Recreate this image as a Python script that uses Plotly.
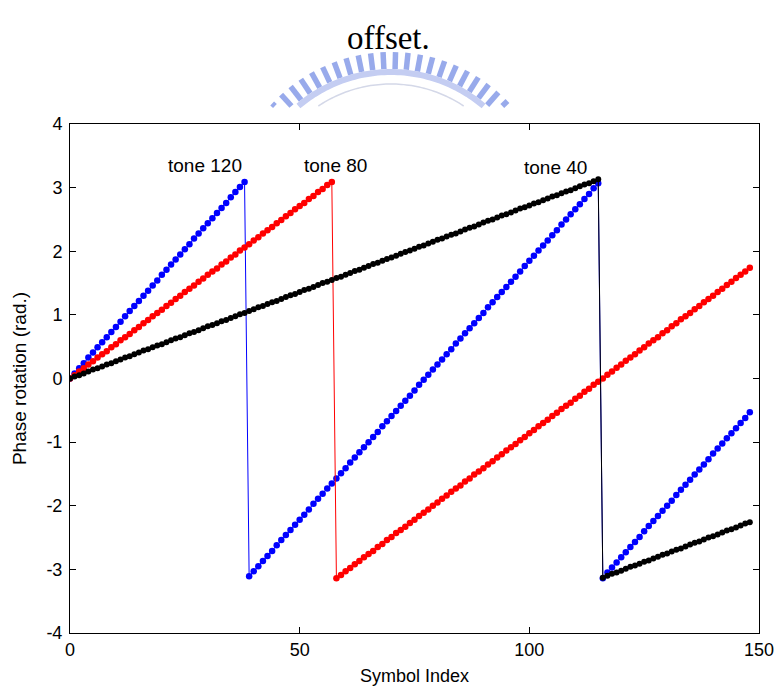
import math
import plotly.graph_objects as go

# ---------------- data ----------------
symbol_index = list(range(0, 149))

tone120 = [0.00, 0.08, 0.16, 0.24, 0.33, 0.41, 0.49, 0.57, 0.65, 0.73,
           0.81, 0.89, 0.98, 1.06, 1.14, 1.22, 1.30, 1.38, 1.46, 1.54,
           1.63, 1.71, 1.79, 1.87, 1.95, 2.03, 2.11, 2.20, 2.28, 2.36,
           2.44, 2.52, 2.60, 2.68, 2.76, 2.85, 2.93, 3.01, 3.09, -3.11,
           -3.03, -2.95, -2.87, -2.79, -2.71, -2.62, -2.54, -2.46, -2.38, -2.30,
           -2.22, -2.14, -2.06, -1.97, -1.89, -1.81, -1.73, -1.65, -1.57, -1.49,
           -1.41, -1.32, -1.24, -1.16, -1.08, -1.00, -0.92, -0.84, -0.75, -0.67,
           -0.59, -0.51, -0.43, -0.35, -0.27, -0.19, -0.10, -0.02, 0.06, 0.14,
           0.22, 0.30, 0.38, 0.46, 0.55, 0.63, 0.71, 0.79, 0.87, 0.95,
           1.03, 1.12, 1.20, 1.28, 1.36, 1.44, 1.52, 1.60, 1.68, 1.77,
           1.85, 1.93, 2.01, 2.09, 2.17, 2.25, 2.33, 2.42, 2.50, 2.58,
           2.66, 2.74, 2.82, 2.90, 2.99, 3.07, -3.14, -3.05, -2.97, -2.89,
           -2.81, -2.73, -2.65, -2.57, -2.49, -2.40, -2.32, -2.24, -2.16, -2.08,
           -2.00, -1.92, -1.83, -1.75, -1.67, -1.59, -1.51, -1.43, -1.35, -1.27,
           -1.18, -1.10, -1.02, -0.94, -0.86, -0.78, -0.70, -0.62, -0.53]

tone80 = [0.00, 0.05, 0.11, 0.16, 0.22, 0.27, 0.33, 0.38, 0.43, 0.49,
          0.54, 0.60, 0.65, 0.70, 0.76, 0.81, 0.87, 0.92, 0.98, 1.03,
          1.08, 1.14, 1.19, 1.25, 1.30, 1.36, 1.41, 1.46, 1.52, 1.57,
          1.63, 1.68, 1.73, 1.79, 1.84, 1.90, 1.95, 2.01, 2.06, 2.11,
          2.17, 2.22, 2.28, 2.33, 2.38, 2.44, 2.49, 2.55, 2.60, 2.66,
          2.71, 2.76, 2.82, 2.87, 2.93, 2.98, 3.04, 3.09, -3.14, -3.09,
          -3.03, -2.98, -2.92, -2.87, -2.81, -2.76, -2.71, -2.65, -2.60, -2.54,
          -2.49, -2.43, -2.38, -2.33, -2.27, -2.22, -2.16, -2.11, -2.06, -2.00,
          -1.95, -1.89, -1.84, -1.78, -1.73, -1.68, -1.62, -1.57, -1.51, -1.46,
          -1.41, -1.35, -1.30, -1.24, -1.19, -1.13, -1.08, -1.03, -0.97, -0.92,
          -0.86, -0.81, -0.75, -0.70, -0.65, -0.59, -0.54, -0.48, -0.43, -0.38,
          -0.32, -0.27, -0.21, -0.16, -0.10, -0.05, 0.00, 0.06, 0.11, 0.17,
          0.22, 0.28, 0.33, 0.38, 0.44, 0.49, 0.55, 0.60, 0.65, 0.71,
          0.76, 0.82, 0.87, 0.93, 0.98, 1.03, 1.09, 1.14, 1.20, 1.25,
          1.30, 1.36, 1.41, 1.47, 1.52, 1.58, 1.63, 1.68, 1.74]

tone40 = [0.00, 0.03, 0.05, 0.08, 0.11, 0.14, 0.16, 0.19, 0.22, 0.24,
          0.27, 0.30, 0.33, 0.35, 0.38, 0.41, 0.44, 0.46, 0.49, 0.52,
          0.54, 0.57, 0.60, 0.63, 0.65, 0.68, 0.71, 0.73, 0.76, 0.79,
          0.82, 0.84, 0.87, 0.90, 0.92, 0.95, 0.98, 1.01, 1.03, 1.06,
          1.09, 1.12, 1.14, 1.17, 1.20, 1.22, 1.25, 1.28, 1.31, 1.33,
          1.36, 1.39, 1.41, 1.44, 1.47, 1.50, 1.52, 1.55, 1.58, 1.60,
          1.63, 1.66, 1.69, 1.71, 1.74, 1.77, 1.80, 1.82, 1.85, 1.88,
          1.90, 1.93, 1.96, 1.99, 2.01, 2.04, 2.07, 2.09, 2.12, 2.15,
          2.18, 2.20, 2.23, 2.26, 2.28, 2.31, 2.34, 2.37, 2.39, 2.42,
          2.45, 2.48, 2.50, 2.53, 2.56, 2.58, 2.61, 2.64, 2.67, 2.69,
          2.72, 2.75, 2.77, 2.80, 2.83, 2.86, 2.88, 2.91, 2.94, 2.96,
          2.99, 3.02, 3.05, 3.07, 3.10, 3.13, -3.13, -3.10, -3.07, -3.05,
          -3.02, -2.99, -2.96, -2.94, -2.91, -2.88, -2.86, -2.83, -2.80, -2.77,
          -2.75, -2.72, -2.69, -2.67, -2.64, -2.61, -2.58, -2.56, -2.53, -2.50,
          -2.48, -2.45, -2.42, -2.39, -2.37, -2.34, -2.31, -2.28, -2.26]

tone_labels = ["tone 120", "tone 80", "tone 40"]
label_x = [29.4, 57.7, 105.8]
label_y = [3.34, 3.34, 3.31]

x_ticks = [0, 50, 100, 150]
y_ticks = [-4, -3, -2, -1, 0, 1, 2, 3, 4]
y_tick_text = ["-4", "-3", "-2", "-1", "0", "1", "2", "3", "4"]

# ---------------- layout geometry ----------------
W, H = 777, 692
ML, MR, MT, MB = 70, 18, 124, 59
PW, PH = W - ML - MR, H - MT - MB


def pxp(xp):
    return (xp - ML) / PW


def pyp(yp):
    return (H - MB - yp) / PH


FONT = "Liberation Sans, Arial, sans-serif"

fig = go.Figure()

series = [(tone120, "#0000ff", 6.5), (tone80, "#ff0000", 6.5), (tone40, "#000000", 6)]
for vals, col, ms in series:
    fig.add_trace(go.Scatter(
        x=symbol_index, y=vals, mode="lines+markers",
        line=dict(color=col, width=1),
        marker=dict(color=col, size=ms, line=dict(width=0)),
        showlegend=False, hoverinfo="x+y"))

for t, lx, ly in zip(tone_labels, label_x, label_y):
    fig.add_annotation(x=lx, y=ly, text=t, showarrow=False,
                       font=dict(family=FONT, size=19, color="black"),
                       xanchor="center", yanchor="middle")

# ---------------- decorative watermark (page scan) ----------------
shapes = []
cx, cy = 391.0, 215.0
cut_y = 106.0
wm_tick = "rgb(152,170,235)"
wm_band = "rgb(196,205,242)"
wm_thin = "rgb(212,216,232)"


def clip_seg(p1, p2):
    (x1, y1), (x2, y2) = p1, p2
    if y1 > cut_y and y2 > cut_y:
        return None
    if y1 > cut_y:
        t = (cut_y - y1) / (y2 - y1)
        x1, y1 = x1 + t * (x2 - x1), cut_y
    if y2 > cut_y:
        t = (cut_y - y2) / (y1 - y2)
        x2, y2 = x2 + t * (x1 - x2), cut_y
    return (x1, y1), (x2, y2)


ang = 40.0
while ang <= 140.5:
    a = math.radians(ang)
    p1 = (cx + 146 * math.cos(a), cy - 146 * math.sin(a))
    p2 = (cx + 163 * math.cos(a), cy - 163 * math.sin(a))
    seg = clip_seg(p1, p2)
    if seg:
        (a1, b1), (a2, b2) = seg
        shapes.append(dict(type="line", xref="paper", yref="paper",
                           x0=pxp(a1), y0=pyp(b1), x1=pxp(a2), y1=pyp(b2),
                           line=dict(color=wm_tick, width=5.5)))
    ang += 4.4


def arc_path(r):
    pts = []
    lim = math.degrees(math.asin((cy - cut_y) / r))
    n = 60
    for i in range(n + 1):
        d = lim + (180 - 2 * lim) * i / n
        a = math.radians(d)
        pts.append((pxp(cx + r * math.cos(a)), pyp(cy - r * math.sin(a))))
    return "M " + " L ".join(f"{p[0]:.5f},{p[1]:.5f}" for p in pts)


shapes.append(dict(type="path", xref="paper", yref="paper", path=arc_path(143),
                   line=dict(color=wm_band, width=6)))
shapes.append(dict(type="path", xref="paper", yref="paper", path=arc_path(131),
                   line=dict(color=wm_thin, width=1.5)))

fig.add_annotation(xref="paper", yref="paper", x=pxp(388), y=pyp(38),
                   text="offset.", showarrow=False,
                   font=dict(family="Liberation Serif, Times New Roman, serif",
                             size=33, color="black"),
                   xanchor="center", yanchor="middle")

axis_common = dict(showline=True, linecolor="black", linewidth=1, mirror="allticks",
                   ticks="inside", ticklen=6, tickcolor="black", tickwidth=1,
                   showgrid=False, zeroline=False, automargin=False,
                   tickfont=dict(family=FONT, size=18, color="black"))

fig.update_layout(
    width=W, height=H,
    margin=dict(l=ML, r=MR, t=MT, b=MB, autoexpand=False),
    paper_bgcolor="white", plot_bgcolor="white",
    shapes=shapes,
    xaxis=dict(range=[0, 150], tickvals=x_ticks,
               title=dict(text="Symbol Index", font=dict(family=FONT, size=18, color="black"),
                          standoff=10),
               **axis_common),
    yaxis=dict(range=[-4, 4], tickvals=y_ticks, ticktext=y_tick_text,
               ticklabelstandoff=3,
               title=dict(text="Phase rotation (rad.)", font=dict(family=FONT, size=19, color="black"),
                          standoff=14),
               **axis_common),
)

fig.write_html("out.html")
